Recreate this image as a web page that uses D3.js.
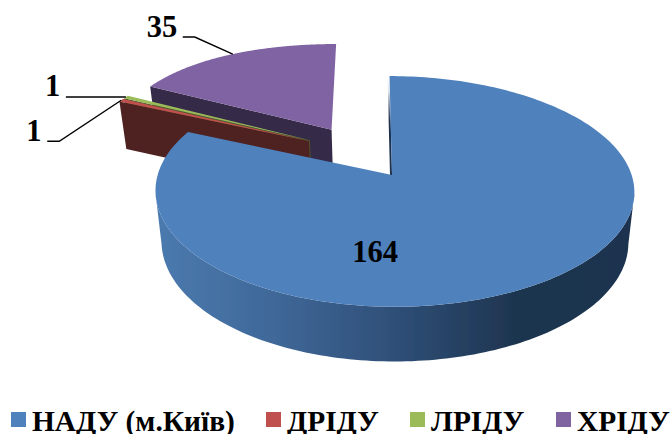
<!DOCTYPE html>
<html><head><meta charset="utf-8">
<script src="https://cdn.jsdelivr.net/npm/d3@7"></script>
<style>html,body{margin:0;padding:0;background:#fff;overflow:hidden}svg{display:block}text{font-family:"Liberation Serif",serif;font-weight:bold;fill:#000}</style>
</head><body><svg id="c" width="672" height="434"></svg>
<script>
const categories = ["НАДУ (м.Київ)", "ДРІДУ", "ЛРІДУ", "ХРІДУ"];
const values = [164, 1, 1, 35];
const labels = ["164", "1", "1", "35"];
const topColors = ["#4f81bd", "#c0504d", "#9bbb59", "#8064a2"];
const wallColors = ["url(#blueWall)", "#4f2120", "#4d5c2b", "#352a47"];

const svg = d3.select("#c");
const defs = svg.append("defs");
const g = defs.append("linearGradient").attr("id", "blueWall")
  .attr("gradientUnits", "userSpaceOnUse").attr("x1", 155).attr("x2", 634).attr("y1", 0).attr("y2", 0);
[[0, "#4b7aaf"], [.25, "#3f6898"], [.5, "#2f4f78"], [.75, "#1e3550"], [1, "#1c3350"]]
  .forEach(s => g.append("stop").attr("offset", s[0]).attr("stop-color", s[1]));
defs.append("filter").attr("id", "soft").append("feGaussianBlur").attr("stdDeviation", 0.45);

// projection of the tilted pie: disk coordinates (u right, v toward viewer) to screen
const k = 1 / 7, ax = 237, by = 113, x0 = 392, y0 = 175, depthY = 50, sx = 0.975, sy = 1.036, skew = 2.5, bow = 2.6, backFix = 15;
const px = (u, v, low) => x0 + ax * (low ? sx : 1) * u / (1 - k * v) + skew * v + bow * u * u;
const py = (u, v, low) => y0 + (low ? depthY : 0) + by * (low ? sy : 1) * v / (1 - k * v) + (v < -1 ? backFix * (v + 1) * (v + 1) : 0);
const explode = 0.25;
const centre = { u: -0.1365, v: -0.21 };

const arcs = d3.pie().sort(null).value(d => d)(values);
const apex = d => {
  const m = (d.startAngle + d.endAngle) / 2;
  return { u: centre.u + explode * Math.sin(m), v: centre.v - explode * Math.cos(m) };
};
const rim = (d, a) => {
  const c = apex(d);
  return { u: c.u + Math.sin(a), v: c.v - Math.cos(a) };
};
const angles = d => d3.range(0, 241).map(i => d3.interpolateNumber(d.startAngle, d.endAngle)(i / 240));
const line = d3.line().curve(d3.curveLinear);
const P = (p, low) => [px(p.u, p.v, low), py(p.u, p.v, low)];

const blueApex = P(apex(arcs[0])), blueStart = P(rim(arcs[0], arcs[0].startAngle));
const sl = defs.append("linearGradient").attr("id", "sliver")
  .attr("gradientUnits", "userSpaceOnUse").attr("x1", 0).attr("x2", 0).attr("y1", blueStart[1]).attr("y2", blueApex[1]);
[[0, "#ffffff"], [.15, "#dfe6ef"], [.45, "#1c3350"], [1, "#1c3350"]]
  .forEach(s => sl.append("stop").attr("offset", s[0]).attr("stop-color", s[1]));

const root = svg.append("g").attr("filter", "url(#soft)");

// slices back to front: purple, green, red, blue
[3, 2, 1, 0].forEach(i => {
  const d = arcs[i];
  const gs = root.append("g");
  const c = apex(d);
  const as = angles(d);
  if (i !== 0) {
    // radial cut face at the slice start
    const s = rim(d, d.startAngle);
    gs.append("path").attr("fill", wallColors[i])
      .attr("d", line([P(c), P(s), P(s, true), P(c, true)]) + "Z");
  } else {
    // outer wall on the part of the rim that faces the viewer
    const front = as.filter(a => Math.cos(a) <= -k);
    gs.append("path").attr("fill", wallColors[i])
      .attr("d", line(front.map(a => P(rim(d, a))).concat(front.slice().reverse().map(a => P(rim(d, a), true)))) + "Z");
    // sliver of the cut face seen beside the notch
    const s = rim(d, d.startAngle);
    const pa = P(c), ps = P(s);
    gs.append("path").attr("fill", "url(#sliver)")
      .attr("d", line([pa, ps, [ps[0] - 2, ps[1]], [pa[0] - 2, pa[1] + 1]]) + "Z");
  }
  gs.append("path").attr("fill", topColors[i])
    .attr("d", line([P(c)].concat(as.map(a => P(rim(d, a))))) + "Z");
});

// data labels and leader lines
const text = (x, y, s, size, anchor) => svg.append("text").attr("x", x).attr("y", y)
  .attr("font-size", size).attr("text-anchor", anchor || "start").text(s);
const leader = pts => svg.append("path").attr("fill", "none").attr("stroke", "#000").attr("stroke-width", 1.4).attr("d", line(pts));
const mid = d => P(rim(d, (d.startAngle + d.endAngle) / 2));

const bc = P(apex(arcs[0]));
text(bc[0] - 17, bc[1] + 87, labels[0], 30.5, "middle");

const pm = mid(arcs[3]);
leader([[pm[0] - 50, pm[1] - 17], [pm[0] - 38, pm[1] - 17], pm]);
text(pm[0] - 86, pm[1] - 17, labels[3], 30.5);

const gm = mid(arcs[2]);
leader([[gm[0] - 60, gm[1]], [gm[0], gm[1]]]);
text(gm[0] - 81, gm[1] - 1, labels[2], 30.5);

const rm = mid(arcs[1]);
leader([[rm[0] - 74, rm[1] + 41], [rm[0] - 62, rm[1] + 41], rm]);
text(rm[0] - 95, rm[1] + 41, labels[1], 30.5);

// legend
const swatchX = [11, 266, 410, 556];
categories.forEach((c, i) => {
  svg.append("rect").attr("x", swatchX[i]).attr("y", 412).attr("width", 15).attr("height", 15).attr("fill", topColors[i]);
  text(swatchX[i] + 21, 431, c, 29.4);
});
</script></body></html>
